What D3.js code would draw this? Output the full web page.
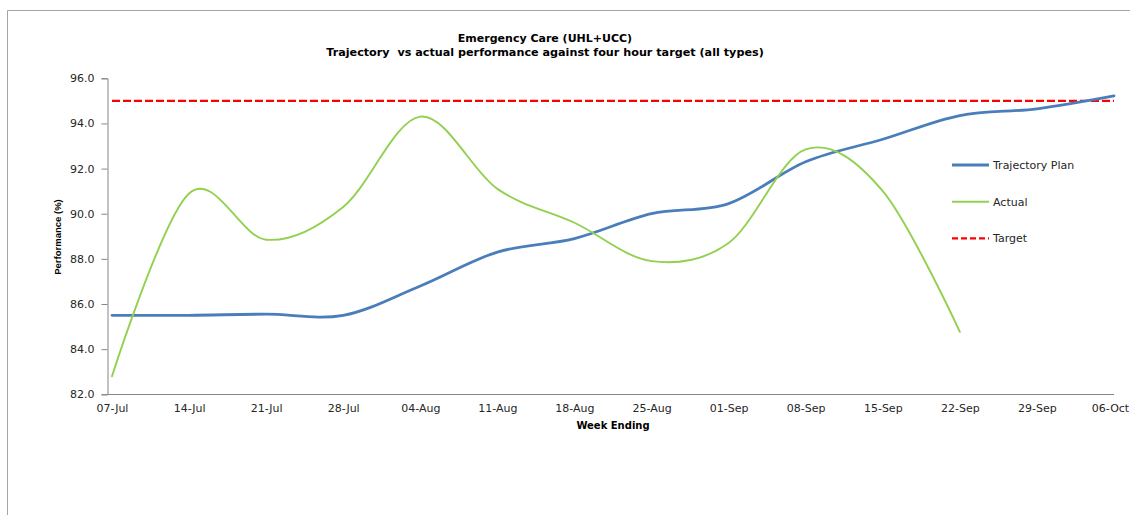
<!DOCTYPE html>
<html>
<head>
<meta charset="utf-8">
<script src="https://cdn.jsdelivr.net/npm/d3@7"></script>
<style>
  html, body { margin: 0; padding: 0; background: #fff; }
  svg { display: block; }
</style>
</head>
<body>
<svg id="chart" width="1130" height="515"></svg>
<script>
// Week-ending dates on the category axis
const weeks = ["07-Jul", "14-Jul", "21-Jul", "28-Jul", "04-Aug", "11-Aug", "18-Aug",
               "25-Aug", "01-Sep", "08-Sep", "15-Sep", "22-Sep", "29-Sep", "06-Oct"];

// Planned four-hour performance (%) per week
const trajectoryPlan = [85.5, 85.5, 85.55, 85.5, 86.8, 88.3, 88.9,
                        90.0, 90.45, 92.3, 93.3, 94.35, 94.65, 95.22];

// Actual four-hour performance (%) reported so far
const actual = [82.8, 90.9, 88.85, 90.3, 94.3, 91.1, 89.6,
                87.9, 88.7, 92.85, 91.0, 84.77];

// Four-hour target (%)
const target = 95.0;

// Value axis ticks
const yTicks = [82, 84, 86, 88, 90, 92, 94, 96];

const svg = d3.select("#chart");
const gray = "#868686";
const textColor = "#262626";

// Outer chart frame
svg.append("path")
  .attr("d", "M7.5,515 V10.5 H1130")
  .attr("fill", "none")
  .attr("stroke", "#a6a6a6")
  .attr("stroke-width", 1);

const x = d3.scalePoint().domain(weeks).range([112, 1114]);
const y = d3.scaleLinear().domain([82, 96]).range([394.3, 78.3]);

// Titles
svg.append("text")
  .attr("x", 545).attr("y", 42)
  .attr("text-anchor", "middle")
  .attr("font-family", "DejaVu Sans, sans-serif")
  .attr("font-weight", "bold")
  .attr("font-size", "11px")
  .attr("fill", "#000")
  .text("Emergency Care (UHL+UCC)");
svg.append("text")
  .attr("x", 545).attr("y", 56)
  .attr("text-anchor", "middle")
  .attr("font-family", "DejaVu Sans, sans-serif")
  .attr("font-weight", "bold")
  .attr("font-size", "11.2px")
  .attr("fill", "#000")
  .attr("xml:space", "preserve")
  .text("Trajectory  vs actual performance against four hour target (all types)");

// Y axis
const yAxis = d3.axisLeft(y)
  .tickValues(yTicks)
  .tickSize(6)
  .tickPadding(7)
  .tickFormat(d3.format(".1f"));
const gy = svg.append("g")
  .attr("transform", "translate(107.5,0)")
  .call(yAxis);
gy.select(".domain").attr("stroke", gray);
gy.selectAll(".tick line").attr("stroke", gray);
gy.selectAll(".tick text")
  .attr("fill", textColor)
  .attr("font-family", "DejaVu Sans, sans-serif")
  .attr("font-size", "11px");

// X axis (baseline only, labels under each week)
const xAxis = d3.axisBottom(x).tickSize(0).tickPadding(10);
const gx = svg.append("g")
  .attr("transform", "translate(0,394.5)")
  .call(xAxis);
gx.select(".domain").remove();
svg.append("line")
  .attr("x1", 107.5).attr("x2", x(weeks[weeks.length - 1]))
  .attr("y1", 394.5).attr("y2", 394.5)
  .attr("stroke", gray);
gx.selectAll(".tick text")
  .attr("fill", textColor)
  .attr("font-family", "DejaVu Sans, sans-serif")
  .attr("font-size", "11px");
// keep the last week label inside the frame
gx.selectAll(".tick text")
  .filter(d => d === weeks[weeks.length - 1])
  .attr("dx", -4);

// Axis titles
svg.append("text")
  .attr("x", 613).attr("y", 429)
  .attr("text-anchor", "middle")
  .attr("font-family", "DejaVu Sans, sans-serif")
  .attr("font-weight", "bold")
  .attr("font-size", "10px")
  .attr("fill", "#000")
  .text("Week Ending");
svg.append("text")
  .attr("transform", "translate(61,237) rotate(-90)")
  .attr("text-anchor", "middle")
  .attr("font-family", "Liberation Sans, Arial, sans-serif")
  .attr("font-weight", "bold")
  .attr("font-size", "9.5px")
  .attr("fill", "#000")
  .text("Performance (%)");

// Target line
svg.append("line")
  .attr("x1", x(weeks[0])).attr("x2", x(weeks[weeks.length - 1]))
  .attr("y1", y(target)).attr("y2", y(target))
  .attr("stroke", "#ff0000")
  .attr("stroke-width", 2.2)
  .attr("stroke-dasharray", "8,3");

const smooth = d3.line()
  .x(d => x(d.week))
  .y(d => y(d.value))
  .curve(d3.curveCardinal.tension(0));

const planData = trajectoryPlan.map((v, i) => ({ week: weeks[i], value: v }));
const actualData = actual.map((v, i) => ({ week: weeks[i], value: v }));

svg.append("path")
  .datum(planData)
  .attr("d", smooth)
  .attr("fill", "none")
  .attr("stroke", "#4a7ebb")
  .attr("stroke-width", 2.8)
  .attr("stroke-linecap", "round");

svg.append("path")
  .datum(actualData)
  .attr("d", smooth)
  .attr("fill", "none")
  .attr("stroke", "#92d050")
  .attr("stroke-width", 1.9)
  .attr("stroke-linecap", "round");

// Legend
const legendItems = [
  { label: "Trajectory Plan", color: "#4a7ebb", width: 2.8, dash: null },
  { label: "Actual", color: "#92d050", width: 1.9, dash: null },
  { label: "Target", color: "#ff0000", width: 2.2, dash: "6,3" }
];
const legend = svg.append("g");
legendItems.forEach((item, i) => {
  const ly = 165 + i * 36.7;
  legend.append("line")
    .attr("x1", 952).attr("x2", 989)
    .attr("y1", ly).attr("y2", ly)
    .attr("stroke", item.color)
    .attr("stroke-width", item.width)
    .attr("stroke-dasharray", item.dash);
  legend.append("text")
    .attr("x", 993).attr("y", ly + 4)
    .attr("font-family", "DejaVu Sans, sans-serif")
    .attr("font-size", "11px")
    .attr("fill", textColor)
    .text(item.label);
});
</script>
</body>
</html>
